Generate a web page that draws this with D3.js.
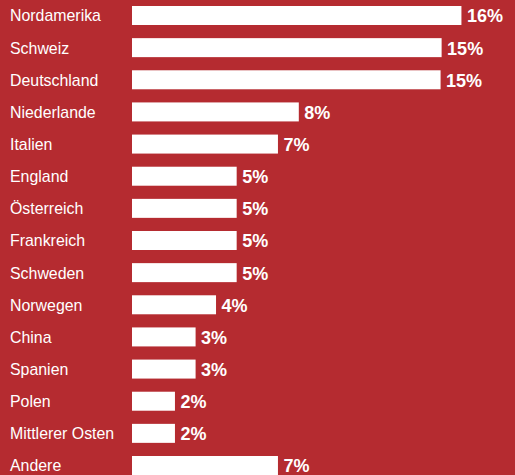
<!DOCTYPE html>
<html>
<head>
<meta charset="utf-8">
<script src="https://cdn.jsdelivr.net/npm/d3@7"></script>
<style>
	html, body { margin: 0; padding: 0; background: #b52b30; overflow: hidden; }
	#chart { width: 515px; height: 475px; }
	text { font-family: "Liberation Sans", Arial, Helvetica, sans-serif; fill: #fff; }
</style>
</head>
<body>
<div id="chart"></div>
<script>
var categories = ["Nordamerika", "Schweiz", "Deutschland", "Niederlande", "Italien", "England", "Österreich",
	"Frankreich", "Schweden", "Norwegen", "China", "Spanien", "Polen", "Mittlerer Osten", "Andere"];
// share in percent
var shares = [15.8, 14.85, 14.8, 8.0, 7.0, 5.02, 5.02, 5.02, 5.02, 4.03, 3.05, 3.05, 2.06, 2.06, 7.0];
var shareLabels = ["16%", "15%", "15%", "8%", "7%", "5%", "5%", "5%", "5%", "4%", "3%", "3%", "2%", "2%", "7%"];

function drawBars(node) {
	var data = categories.map(function (c, i) {
		return { category: c, value: shares[i], label: shareLabels[i] };
	});

	var element = d3.select(node);
	var width = 515, height = 475;
	var margin = { top: 6, left: 132 };

	var svg = element.append("svg")
		.attr("width", width)
		.attr("height", height);

	svg.append("rect")
		.attr("width", width)
		.attr("height", height)
		.attr("fill", "#b52b30");

	var x = d3.scaleLinear()
		.domain([0, 16])
		.range([0, 16 * 20.85]);

	var y = d3.scaleBand()
		.domain(categories)
		.range([margin.top, margin.top + 469])
		.paddingInner(0.409)
		.paddingOuter(0);

	var row = svg.selectAll(".row")
		.data(data)
		.enter().append("g")
		.attr("class", "row")
		.attr("transform", function (d) {
			return "translate(0," + y(d.category) + ")";
		});

	row.append("rect")
		.attr("x", margin.left)
		.attr("y", 0)
		.attr("width", function (d) { return x(d.value); })
		.attr("height", y.bandwidth())
		.attr("fill", "#fff");

	row.append("text")
		.attr("x", 10)
		.attr("y", y.bandwidth() / 2 + 6)
		.style("font-size", "15.9px")
		.text(function (d) { return d.category; });

	row.append("text")
		.attr("x", function (d) { return margin.left + x(d.value) + 5.5; })
		.attr("y", y.bandwidth() / 2 + 7)
		.style("font-size", "18px")
		.style("font-weight", "bold")
		.text(function (d) { return d.label; });
}

drawBars("#chart");
</script>
</body>
</html>
